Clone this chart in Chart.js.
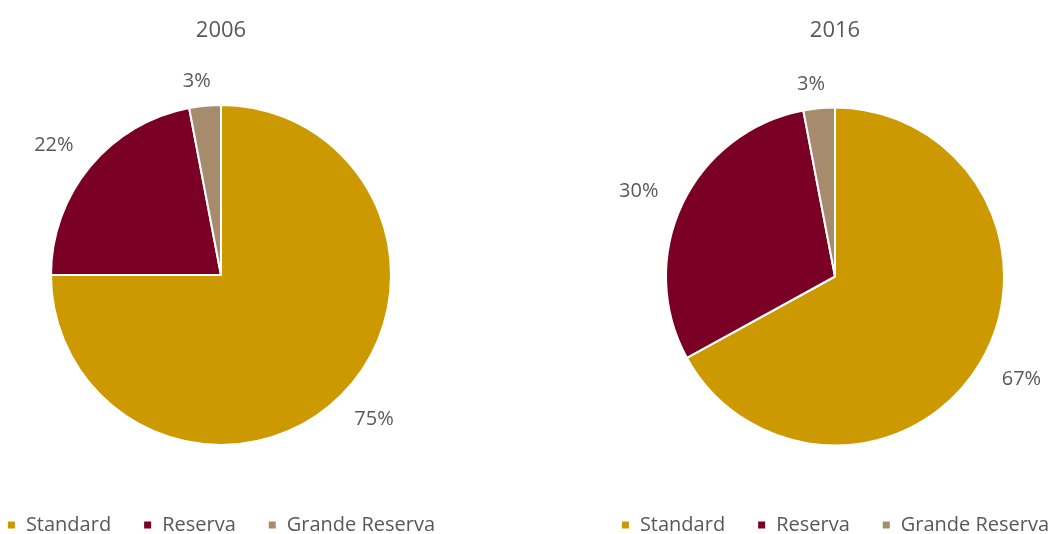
<!DOCTYPE html>
<html>
<head>
<meta charset="utf-8">
<script src="https://cdn.jsdelivr.net/npm/chart.js@4.4.1/dist/chart.umd.min.js"></script>
<style>
  html, body { margin: 0; padding: 0; background: #fff; overflow: hidden; }
  .wrap { position: absolute; top: 0; height: 545px; }
  #left { left: -200px; width: 842px; }
  #right { left: 535px; width: 600px; }
</style>
</head>
<body>
<div class="wrap" id="left"><canvas id="chart2006"></canvas></div>
<div class="wrap" id="right"><canvas id="chart2016"></canvas></div>
<script>
const categories = ['Standard', 'Reserva', 'Grande Reserva'];
const colors = ['#cc9900', '#7a0026', '#a68c6c'];
const values2006 = [75, 22, 3];
const values2016 = [67, 30, 3];

const FONT = '"Open Sans", Lato, sans-serif';
const TEXT_COLOR = '#595959';

// percentage labels placed just outside each slice
const outsideLabels = {
  id: 'outsideLabels',
  afterDatasetsDraw(chart) {
    const ctx = chart.ctx;
    const meta = chart.getDatasetMeta(0);
    const data = chart.data.datasets[0].data;
    const total = data.reduce((a, b) => a + b, 0);
    ctx.save();
    ctx.font = '20px ' + FONT;
    ctx.fillStyle = TEXT_COLOR;
    ctx.textAlign = 'center';
    ctx.textBaseline = 'middle';
    meta.data.forEach((arc, i) => {
      const mid = (arc.startAngle + arc.endAngle) / 2 - 0.03;
      const r = arc.outerRadius + 22 + Math.abs(Math.cos(mid)) * 25;
      const x = arc.x + Math.cos(mid) * r;
      const y = arc.y + Math.sin(mid) * r;
      ctx.fillText(Math.round(data[i] / total * 100) + '%', x, y);
    });
    ctx.restore();
  }
};

function makePie(id, title, values, radius, titleBottom) {
  return new Chart(document.getElementById(id), {
    type: 'pie',
    data: {
      labels: categories,
      datasets: [{
        data: values,
        backgroundColor: colors,
        borderColor: '#fff',
        borderWidth: 2,
        radius: radius
      }]
    },
    options: {
      responsive: true,
      maintainAspectRatio: false,
      animation: false,
      plugins: {
        title: {
          display: true,
          text: title,
          color: TEXT_COLOR,
          font: { family: FONT, size: 22, weight: 'normal' },
          padding: { top: 18, bottom: titleBottom }
        },
        legend: {
          position: 'bottom',
          labels: {
            color: TEXT_COLOR,
            font: { family: FONT, size: 20 },
            boxWidth: 9,
            boxHeight: 9,
            padding: 32
          }
        },
        tooltip: { enabled: false }
      }
    },
    plugins: [outsideLabels]
  });
}

makePie('chart2006', '2006', values2006, 170, 22.6);
makePie('chart2016', '2016', values2016, 169, 25.6);
</script>
</body>
</html>
